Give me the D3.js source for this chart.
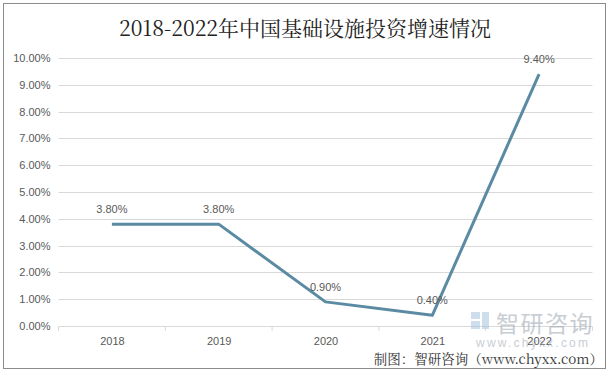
<!DOCTYPE html>
<html><head><meta charset="utf-8">
<script src="https://cdn.jsdelivr.net/npm/d3@7"></script>
<style>body{margin:0;background:#fff}svg{display:block}</style>
</head><body>
<svg id="c" width="610" height="374"></svg>
<script>
const categories = ["2018","2019","2020","2021","2022"];
const values = [3.8, 3.8, 0.9, 0.4, 9.4];
const valueLabels = ["3.80%","3.80%","0.90%","0.40%","9.40%"];
const yTicks = [0,1,2,3,4,5,6,7,8,9,10];
const title = "2018-2022年中国基础设施投资增速情况";
const source = "制图：智研咨询（www.chyxx.com）";

const svg = d3.select("#c");
const m = {left:58.5, right:592.5, top:58, bottom:326};

svg.append("rect").attr("x",3.5).attr("y",3.5).attr("width",602).attr("height",365)
  .attr("fill","#fff").attr("stroke","#8c8c8c").attr("stroke-width",1);

svg.append("text").attr("x",305).attr("y",36).attr("text-anchor","middle")
  .attr("font-family","'Noto Serif CJK SC','Liberation Serif','Noto Sans CJK SC',serif").attr("font-size",21)
  .attr("fill","#222").text(title);

const x = d3.scalePoint().domain(categories).range([m.left, m.right]).padding(0.5);
const y = d3.scaleLinear().domain([0,10]).range([m.bottom, m.top]);

const font = "'Liberation Sans','Noto Sans',sans-serif";
svg.append("g").selectAll("line").data(yTicks).join("line")
  .attr("x1",m.left).attr("x2",m.right)
  .attr("y1",d=>Math.round(y(d))+0.5).attr("y2",d=>Math.round(y(d))+0.5)
  .attr("stroke","#d9d9d9").attr("stroke-width",1);

const yAxis = d3.axisLeft(y).tickValues(yTicks).tickFormat(d=>d.toFixed(2)+"%").tickSize(0).tickPadding(8);
const gy = svg.append("g").attr("transform",`translate(${m.left},0)`).call(yAxis);
gy.select(".domain").remove();
gy.selectAll("text").attr("font-family",font).attr("font-size",11).attr("fill","#595959");

const xAxis = d3.axisBottom(x).tickSize(0).tickPadding(11);
const gx = svg.append("g").attr("transform",`translate(0,${m.bottom})`).call(xAxis);
gx.select(".domain").remove();
gx.selectAll("text").attr("font-family",font).attr("font-size",11).attr("fill","#595959");
const bw = x.step();
svg.append("g").selectAll("line").data(d3.range(categories.length+1)).join("line")
  .attr("x1",i=>m.left+i*bw).attr("x2",i=>m.left+i*bw)
  .attr("y1",m.bottom+0.5).attr("y2",m.bottom+5)
  .attr("stroke","#d9d9d9");

// watermark
const wm = svg.append("g").attr("opacity",0.55);
wm.append("text").attr("x",496).attr("y",332)
  .attr("font-family","'Noto Sans CJK SC',sans-serif").attr("font-size",23)
  .attr("fill","#9aa6b0").attr("letter-spacing",1.5).text("智研咨询");
wm.append("rect").attr("x",471).attr("y",312).attr("width",9).attr("height",7).attr("fill","#a8c4df");
wm.append("rect").attr("x",471).attr("y",321).attr("width",9).attr("height",8).attr("fill","#a8c4df");
wm.append("rect").attr("x",482).attr("y",312).attr("width",7).attr("height",17).attr("fill","#a8c4df");
wm.append("text").attr("x",476).attr("y",347)
  .attr("font-family",font).attr("font-size",12).attr("fill","#9aa6b0")
  .attr("textLength",112).attr("lengthAdjust","spacing").text("www.chyxx.com");

const line = d3.line().x((d,i)=>x(categories[i])).y(d=>y(d));
svg.append("path").datum(values).attr("d",line).attr("fill","none")
  .attr("stroke","#5b8ba2").attr("stroke-width",3).attr("stroke-linejoin","round");

svg.append("g").selectAll("text").data(values).join("text")
  .attr("x",(d,i)=>x(categories[i])).attr("y",d=>y(d)-11)
  .attr("text-anchor","middle").attr("font-family",font).attr("font-size",11)
  .attr("fill","#595959").text((d,i)=>valueLabels[i]);

svg.append("text").attr("x",603).attr("y",364).attr("text-anchor","end")
  .attr("font-family","'Noto Serif CJK SC','Liberation Serif','Noto Sans CJK SC',serif").attr("font-size",13.5)
  .attr("fill","#333").text(source);
</script>
</body></html>
